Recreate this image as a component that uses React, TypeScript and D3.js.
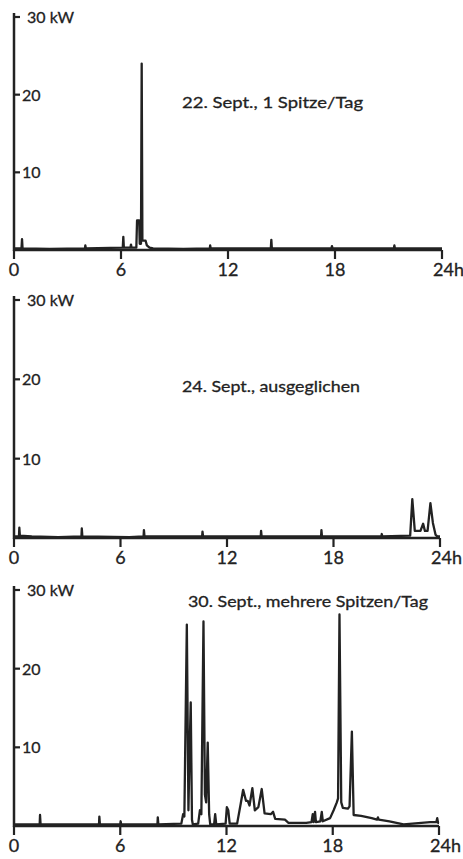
import React from "react";
import * as d3 from "d3";

// ---- data (hour, kW) ----
const sept22: [number, number][] = [
  [0, 0.2], [0.42, 0.2], [0.45, 1.4], [0.48, 0.2], [2, 0.15], [3.98, 0.2], [4.0, 0.6], [4.03, 0.2],
  [6.1, 0.3], [6.13, 1.7], [6.16, 0.3], [6.53, 0.3], [6.56, 0.7], [6.59, 0.3], [6.86, 0.3],
  [6.9, 3.8], [7.02, 3.8], [7.05, 0.8], [7.12, 0.8], [7.16, 24.0], [7.2, 1.2], [7.38, 1.2],
  [7.45, 0.6], [7.6, 0.3], [7.8, 0.2], [9.5, 0.15], [10.98, 0.2], [11.0, 0.6], [11.03, 0.2],
  [14.4, 0.2], [14.43, 1.3], [14.46, 0.2], [17.8, 0.2], [17.83, 0.5], [17.86, 0.2],
  [21.3, 0.2], [21.33, 0.6], [21.36, 0.2], [24, 0.2],
];

const sept24: [number, number][] = [
  [0, 0.2], [0.28, 0.2], [0.3, 1.3], [0.33, 0.3], [1, 0.2], [2.5, 0.1], [3.8, 0.2], [3.82, 1.2],
  [3.85, 0.2], [6.5, 0.1], [7.3, 0.2], [7.32, 1.0], [7.35, 0.2], [10.6, 0.2], [10.62, 0.8],
  [10.65, 0.2], [13.9, 0.2], [13.92, 0.9], [13.95, 0.2], [17.3, 0.2], [17.32, 1.0], [17.35, 0.2],
  [20.7, 0.2], [20.72, 0.5], [20.75, 0.2], [22.32, 0.3], [22.44, 4.9], [22.58, 0.9], [22.9, 0.9],
  [23.05, 1.8], [23.15, 0.9], [23.3, 0.9], [23.46, 4.4], [23.6, 1.9], [23.75, 0.4], [23.85, 0.2],
  [24, 0.2],
];

const sept30: [number, number][] = [
  [0, 0.2], [1.45, 0.2], [1.47, 1.4], [1.5, 0.2], [3, 0.2], [4.8, 0.2], [4.82, 1.2], [4.85, 0.2],
  [6, 0.2], [6.02, 0.6], [6.05, 0.2], [8.1, 0.2], [8.12, 1.1], [8.15, 0.2], [9.45, 0.3],
  [9.55, 1.5], [9.62, 1.2], [9.76, 25.6], [9.85, 2], [9.9, 8], [9.98, 15.7], [10.05, 0.8],
  [10.1, 0.2], [10.4, 0.3], [10.5, 2], [10.58, 1.5], [10.7, 26], [10.78, 4], [10.85, 3],
  [10.94, 10.6], [11.02, 1.5], [11.08, 0.2], [11.3, 0.2], [11.36, 1.5], [11.42, 0.2], [11.95, 0.3],
  [12.02, 2.4], [12.1, 2.0], [12.18, 0.3], [12.6, 0.3], [12.8, 2.8], [12.94, 4.6], [13.1, 3.2],
  [13.2, 3.2], [13.3, 2.6], [13.46, 4.8], [13.6, 2.0], [13.8, 2.4], [13.99, 4.7], [14.15, 1.6],
  [14.5, 1.5], [14.63, 1.8], [14.75, 0.9], [15.3, 0.8], [15.5, 0.4], [16.5, 0.4], [16.8, 0.5],
  [16.87, 1.5], [16.92, 0.5], [17.0, 1.8], [17.05, 0.5], [17.3, 0.6], [17.38, 1.8], [17.44, 0.6],
  [17.85, 1.0], [18.05, 2.0], [18.23, 3.0], [18.3, 3.5], [18.38, 26.9], [18.48, 3], [18.57, 2.3],
  [18.85, 2.2], [18.95, 2.5], [19.08, 12.0], [19.18, 1.4], [19.6, 1.3], [20.2, 1.0], [20.5, 0.8],
  [20.55, 1.1], [20.6, 0.8], [21.2, 0.6], [22, 0.2], [22.5, 0.3], [23, 0.4], [23.5, 0.5],
  [23.85, 0.5], [23.9, 1.0], [23.95, 0.4], [24, 0.4],
];

const titles = ["22. Sept., 1 Spitze/Tag", "24. Sept., ausgeglichen", "30. Sept., mehrere Spitzen/Tag"];
const xTicks = [0, 6, 12, 18, 24];
const xTickLabels = ["0", "6", "12", "18", "24h"];
const yTicks = [10, 20, 30];
const yTickLabels = ["10", "20", "30 kW"];

const series = [sept22, sept24, sept30];

// layout per panel
const panels = [
  { x0: 14, x1: 442, y0: 250, y30: 17, tx: 182, ty: 108, tw: 181 },
  { x0: 14, x1: 440, y0: 538, y30: 300, tx: 182, ty: 392, tw: 178 },
  { x0: 14, x1: 439, y0: 826, y30: 590, tx: 188, ty: 607, tw: 240 },
];

const INK = "#222";
const FONT = "Lato, 'Open Sans', sans-serif";
const textStyle = { stroke: INK, strokeWidth: 0.3, paintOrder: "stroke" as const };

function Panel({ idx }: { idx: number }) {
  const p = panels[idx];
  const x = d3.scaleLinear().domain([0, 24]).range([p.x0, p.x1]);
  const y = d3.scaleLinear().domain([0, 30]).range([p.y0, p.y30]);
  const line = d3
    .line<[number, number]>()
    .x((d) => x(d[0]))
    .y((d) => y(d[1]));
  return (
    <g>
      {/* y axis */}
      <line x1={x(0)} x2={x(0)} y1={y(0) + 1} y2={y(30) - 4} stroke={INK} strokeWidth={2.5} />
      {yTicks.map((t, i) => (
        <g key={t}>
          <line x1={x(0)} x2={x(0) + 6} y1={y(t)} y2={y(t)} stroke={INK} strokeWidth={2.2} />
          <text
            x={x(0) + (t === 30 ? 13 : 8)}
            y={y(t) + 6}
            fontFamily={FONT}
            fontSize={16}
            fill={INK}
            style={textStyle}
          >
            {yTickLabels[i]}
          </text>
        </g>
      ))}
      {/* x axis */}
      <line x1={x(0)} x2={x(24)} y1={y(0)} y2={y(0)} stroke={INK} strokeWidth={2.5} />
      {xTicks.map((t, i) => (
        <g key={t}>
          <line x1={x(t)} x2={x(t)} y1={y(0)} y2={y(0) + 9} stroke={INK} strokeWidth={2.2} />
          <text
            x={t === 24 ? x(t) - 9 : x(t)}
            y={y(0) + 26}
            textAnchor={t === 24 ? "start" : "middle"}
            fontFamily={FONT}
            fontSize={18}
            fill={INK}
            style={textStyle}
          >
            {xTickLabels[i]}
          </text>
        </g>
      ))}
      {/* data */}
      <path d={line(series[idx]) || ""} fill="none" stroke={INK} strokeWidth={2.3} strokeLinejoin="round" />
      {/* title */}
      <text
        x={p.tx}
        y={p.ty}
        fontFamily={FONT}
        fontSize={16}
        fill={INK}
        textLength={p.tw}
        lengthAdjust="spacingAndGlyphs"
        style={textStyle}
      >
        {titles[idx]}
      </text>
    </g>
  );
}

export default function App() {
  return (
    <svg
      width={463}
      height={859}
      style={{ position: "absolute", left: 0, top: 0, display: "block", background: "#fff" }}
    >
      <rect width={463} height={859} fill="#fff" />
      {panels.map((_, i) => (
        <Panel key={i} idx={i} />
      ))}
    </svg>
  );
}
